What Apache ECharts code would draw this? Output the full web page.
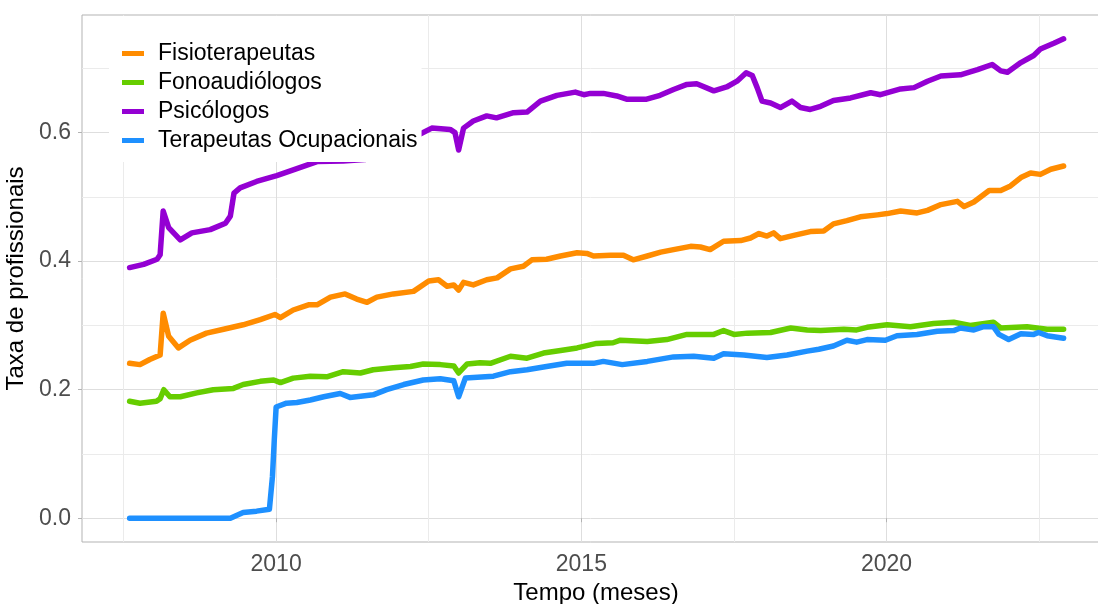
<!DOCTYPE html>
<html lang="pt-BR" style="height: 100%">
<head>
  <meta charset="utf-8">
</head>
<body style="height: 100%; margin: 0; background: #fff">
  <div id="container" style="width: 1098px; height: 604px"></div>
  <script type="text/javascript" src="https://cdn.jsdelivr.net/npm/echarts@6/dist/echarts.min.js"></script>
  <script type="text/javascript">
    // [ano decimal, taxa]
    var fisioterapeutas = [[2007.60,0.241],[2007.77,0.239],[2007.93,0.247],[2008.10,0.254],[2008.15,0.319],[2008.24,0.283],[2008.40,0.265],[2008.59,0.277],[2008.86,0.288],[2009.14,0.294],[2009.46,0.301],[2009.74,0.309],[2009.98,0.317],[2010.07,0.312],[2010.28,0.324],[2010.53,0.332],[2010.67,0.332],[2010.89,0.344],[2011.13,0.349],[2011.32,0.341],[2011.49,0.336],[2011.65,0.344],[2011.92,0.349],[2012.25,0.353],[2012.50,0.369],[2012.66,0.371],[2012.80,0.361],[2012.91,0.363],[2012.99,0.355],[2013.07,0.367],[2013.23,0.363],[2013.45,0.371],[2013.62,0.374],[2013.84,0.388],[2014.05,0.392],[2014.19,0.402],[2014.43,0.403],[2014.66,0.408],[2014.93,0.413],[2015.09,0.412],[2015.20,0.408],[2015.48,0.409],[2015.69,0.409],[2015.85,0.402],[2016.08,0.408],[2016.30,0.414],[2016.51,0.418],[2016.79,0.423],[2016.95,0.422],[2017.11,0.418],[2017.33,0.431],[2017.61,0.432],[2017.77,0.436],[2017.91,0.443],[2018.04,0.439],[2018.15,0.444],[2018.26,0.435],[2018.48,0.440],[2018.75,0.446],[2018.97,0.447],[2019.13,0.458],[2019.35,0.463],[2019.57,0.469],[2019.85,0.472],[2020.01,0.474],[2020.23,0.478],[2020.50,0.475],[2020.67,0.479],[2020.89,0.488],[2021.16,0.493],[2021.27,0.485],[2021.43,0.492],[2021.68,0.510],[2021.87,0.510],[2022.03,0.517],[2022.20,0.530],[2022.36,0.537],[2022.52,0.535],[2022.69,0.543],[2022.90,0.548]];
    var fonoaudiologos = [[2007.60,0.182],[2007.77,0.179],[2008.04,0.182],[2008.10,0.186],[2008.16,0.200],[2008.26,0.189],[2008.43,0.189],[2008.70,0.195],[2008.97,0.200],[2009.30,0.202],[2009.46,0.208],[2009.74,0.213],[2009.96,0.215],[2010.07,0.211],[2010.28,0.218],[2010.56,0.221],[2010.83,0.220],[2011.10,0.228],[2011.38,0.226],[2011.59,0.231],[2011.92,0.234],[2012.20,0.236],[2012.41,0.240],[2012.69,0.239],[2012.91,0.237],[2012.99,0.226],[2013.13,0.240],[2013.34,0.242],[2013.51,0.241],[2013.84,0.252],[2014.11,0.249],[2014.38,0.257],[2014.66,0.261],[2014.93,0.265],[2015.25,0.272],[2015.52,0.273],[2015.64,0.277],[2016.08,0.275],[2016.40,0.278],[2016.73,0.286],[2017.17,0.286],[2017.33,0.292],[2017.50,0.286],[2017.72,0.288],[2018.10,0.289],[2018.43,0.296],[2018.70,0.293],[2018.92,0.292],[2019.30,0.294],[2019.51,0.293],[2019.68,0.297],[2020.01,0.301],[2020.39,0.298],[2020.77,0.303],[2021.10,0.305],[2021.37,0.300],[2021.75,0.305],[2021.87,0.296],[2022.30,0.298],[2022.63,0.294],[2022.90,0.294]];
    var psicologos = [[2007.60,0.390],[2007.83,0.395],[2008.05,0.403],[2008.10,0.410],[2008.15,0.478],[2008.24,0.452],[2008.43,0.433],[2008.62,0.444],[2008.92,0.449],[2009.17,0.459],[2009.25,0.470],[2009.31,0.506],[2009.41,0.514],[2009.68,0.524],[2010.01,0.533],[2010.34,0.544],[2010.67,0.555],[2011.10,0.556],[2011.45,0.558],[2011.80,0.570],[2012.20,0.590],[2012.55,0.607],[2012.85,0.605],[2012.93,0.600],[2012.99,0.573],[2013.07,0.607],[2013.23,0.618],[2013.45,0.626],[2013.61,0.623],[2013.89,0.631],[2014.11,0.632],[2014.33,0.649],[2014.60,0.658],[2014.90,0.663],[2015.04,0.659],[2015.15,0.661],[2015.36,0.661],[2015.58,0.657],[2015.74,0.652],[2016.07,0.652],[2016.29,0.658],[2016.51,0.667],[2016.73,0.675],[2016.89,0.676],[2017.17,0.665],[2017.38,0.671],[2017.55,0.680],[2017.70,0.693],[2017.80,0.689],[2017.88,0.670],[2017.96,0.649],[2018.10,0.646],[2018.26,0.639],[2018.45,0.649],[2018.59,0.639],[2018.75,0.636],[2018.92,0.641],[2019.13,0.650],[2019.41,0.654],[2019.74,0.662],[2019.90,0.659],[2020.23,0.668],[2020.45,0.670],[2020.67,0.680],[2020.89,0.688],[2021.21,0.690],[2021.49,0.698],[2021.73,0.706],[2021.87,0.696],[2021.98,0.694],[2022.20,0.709],[2022.41,0.720],[2022.52,0.730],[2022.74,0.739],[2022.90,0.746]];
    var terapeutasOcupacionais = [[2007.60,0.000],[2009.25,0.000],[2009.46,0.009],[2009.68,0.011],[2009.89,0.014],[2009.94,0.065],[2009.97,0.122],[2010.00,0.173],[2010.17,0.179],[2010.34,0.180],[2010.56,0.184],[2010.78,0.189],[2011.05,0.194],[2011.21,0.188],[2011.59,0.192],[2011.81,0.200],[2012.09,0.208],[2012.41,0.215],[2012.69,0.217],[2012.91,0.214],[2012.99,0.189],[2013.10,0.218],[2013.56,0.221],[2013.84,0.228],[2014.11,0.231],[2014.43,0.236],[2014.76,0.241],[2015.20,0.241],[2015.36,0.244],[2015.67,0.239],[2016.08,0.244],[2016.51,0.251],[2016.84,0.252],[2017.17,0.249],[2017.33,0.256],[2017.66,0.254],[2018.04,0.250],[2018.37,0.254],[2018.70,0.260],[2018.89,0.263],[2019.13,0.268],[2019.35,0.277],[2019.51,0.274],[2019.68,0.278],[2019.98,0.277],[2020.17,0.284],[2020.50,0.286],[2020.83,0.291],[2021.10,0.292],[2021.21,0.296],[2021.43,0.293],[2021.59,0.298],[2021.75,0.298],[2021.84,0.286],[2022.00,0.278],[2022.20,0.287],[2022.41,0.286],[2022.49,0.289],[2022.63,0.284],[2022.90,0.280]];

    var xTicks = [2010, 2015, 2020];
    var xMinor = [2007.5, 2012.5, 2017.5, 2022.5];
    var yTicks = [0, 0.2, 0.4, 0.6];
    var yMinor = [0.1, 0.3, 0.5, 0.7];

    var nomes = ['Fisioterapeutas', 'Fonoaudiólogos', 'Psicólogos', 'Terapeutas Ocupacionais'];
    var cores = ['#FF8C00', '#66CD00', '#9400D3', '#1E90FF'];
    var dados = [fisioterapeutas, fonoaudiologos, psicologos, terapeutasOcupacionais];

    var fonte = 'Liberation Sans, Arial, sans-serif';
    var xMin = 2006.82, xMax = 2023.66;
    var yMin = -0.037, yMax = 0.783;

    var dom = document.getElementById('container');
    var myChart = echarts.init(dom, null, { renderer: 'canvas' });

    var option = {
      animation: false,
      backgroundColor: '#fff',
      textStyle: { fontFamily: fonte },
      color: cores,
      grid: {
        left: 82, right: -12, top: 15, bottom: 62,
        outerBoundsMode: 'none',
        containLabel: false,
        show: true, borderColor: '#b3b3b3', borderWidth: 1, backgroundColor: '#fff'
      },
      legend: {
        orient: 'vertical',
        left: 109, top: 16,
        padding: [26, 4, 10, 13],
        backgroundColor: '#fff',
        itemWidth: 22, itemHeight: 5, itemGap: 6,
        icon: 'rect',
        z: 10,
        data: nomes,
        textStyle: { fontSize: 23, lineHeight: 23, color: '#000', fontFamily: fonte, padding: [0, 0, 0, 9] }
      },
      xAxis: [
        {
          type: 'value', min: xMin, max: xMax,
          name: 'Tempo (meses)', nameLocation: 'middle', nameGap: 38,
          nameTextStyle: { fontSize: 24, color: '#000', fontFamily: fonte },
          axisLine: { show: false },
          axisTick: { show: true, length: 4, customValues: xTicks, lineStyle: { color: '#b3b3b3' } },
          axisLabel: { customValues: xTicks, fontSize: 23, color: '#4d4d4d', margin: 11,
            formatter: function (v) { return String(v); } },
          splitLine: { show: true, lineStyle: { color: '#dedede', width: 1 } }
        },
        {
          type: 'value', min: xMin, max: xMax, position: 'bottom',
          axisLine: { show: false },
          axisTick: { show: false, customValues: xMinor },
          axisLabel: { show: false, customValues: xMinor },
          splitLine: { show: true, lineStyle: { color: '#ebebeb', width: 1 } }
        }
      ],
      yAxis: [
        {
          type: 'value', min: yMin, max: yMax,
          name: 'Taxa de profissionais', nameLocation: 'middle', nameGap: 42,
          nameTextStyle: { fontSize: 24, color: '#000', fontFamily: fonte },
          axisLine: { show: false },
          axisTick: { show: true, length: 4, customValues: yTicks, lineStyle: { color: '#b3b3b3' } },
          axisLabel: { customValues: yTicks, fontSize: 23, color: '#4d4d4d', margin: 11,
            formatter: function (v) { return v.toFixed(1); } },
          splitLine: { show: true, lineStyle: { color: '#dedede', width: 1 } }
        },
        {
          type: 'value', min: yMin, max: yMax, position: 'left',
          axisLine: { show: false },
          axisTick: { show: false, customValues: yMinor },
          axisLabel: { show: false, customValues: yMinor },
          splitLine: { show: true, lineStyle: { color: '#ebebeb', width: 1 } }
        }
      ],
      series: nomes.map(function (nome, i) {
        return {
          name: nome,
          type: 'line',
          data: dados[i],
          xAxisIndex: 0, yAxisIndex: 0,
          showSymbol: false,
          symbol: 'none',
          lineStyle: { width: 5.5, color: cores[i], join: 'round', cap: 'round' },
          itemStyle: { color: cores[i] },
          z: 2 + i
        };
      })
    };

    myChart.setOption(option);
    window.addEventListener('resize', myChart.resize);
  </script>
</body>
</html>
